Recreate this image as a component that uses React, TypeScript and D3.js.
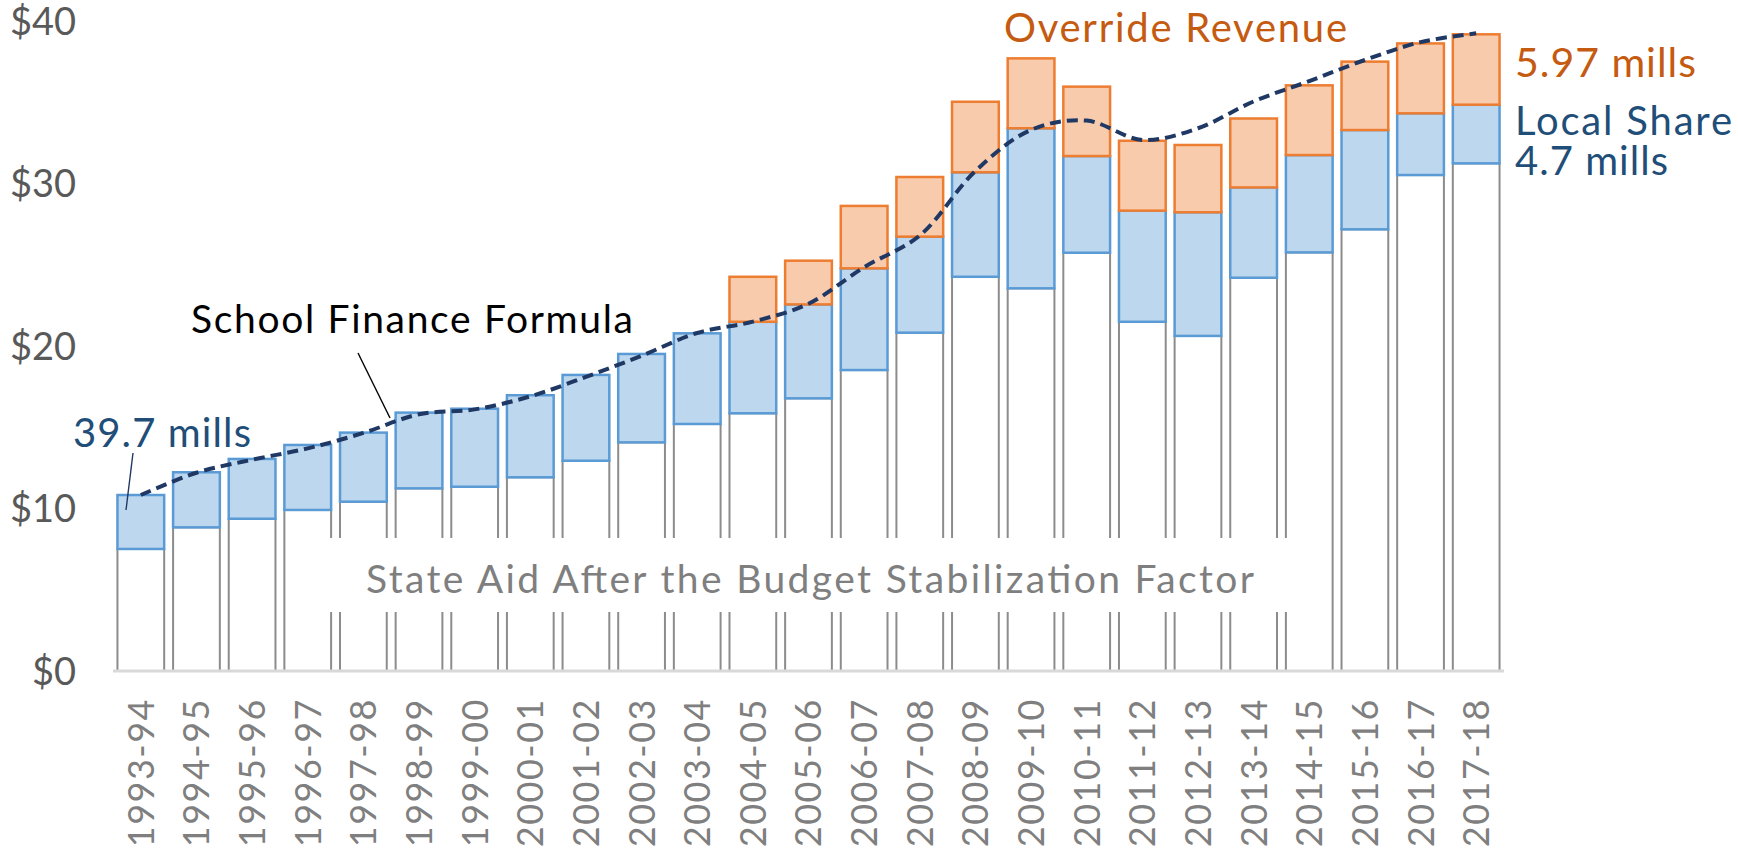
import React from "react";
import * as d3 from "d3";

const years = [
  "1993-94", "1994-95", "1995-96", "1996-97", "1997-98", "1998-99", "1999-00",
  "2000-01", "2001-02", "2002-03", "2003-04", "2004-05", "2005-06", "2006-07",
  "2007-08", "2008-09", "2009-10", "2010-11", "2011-12", "2012-13", "2013-14",
  "2014-15", "2015-16", "2016-17", "2017-18",
];
// State aid after the budget stabilization factor ($ billions)
const stateAid = [
  7.51, 8.84, 9.37, 9.91, 10.42, 11.24, 11.34, 11.92, 12.94, 14.07, 15.2, 15.86,
  16.78, 18.52, 20.82, 24.26, 23.55, 25.74, 21.49, 20.62, 24.2, 25.76, 27.18,
  30.52, 31.24,
];
// Local share
const localShare = [
  3.32, 3.39, 3.68, 4.0, 4.25, 4.66, 4.8, 5.05, 5.28, 5.44, 5.58, 5.63, 5.78,
  6.26, 5.91, 6.43, 9.85, 5.95, 6.84, 7.61, 5.56, 5.99, 6.11, 3.8, 3.61,
];
// Override revenue
const overrideRevenue = [
  0, 0, 0, 0, 0, 0, 0, 0, 0, 0, 0, 2.77, 2.69, 3.84, 3.67, 4.34, 4.3, 4.27,
  4.3, 4.14, 4.24, 4.29, 4.21, 4.3, 4.33,
];
// School finance formula total
const formula = [
  10.83, 12.2, 13.0, 13.7, 14.65, 15.8, 16.1, 16.9, 18.1, 19.4, 20.8, 21.5,
  22.6, 24.85, 26.8, 30.77, 33.3, 33.87, 32.68, 33.4, 35.05, 36.3, 37.6, 38.7,
  39.24,
];
const yTicks = [0, 10, 20, 30, 40];

const FONT = "Lato, 'Open Sans', sans-serif";

export default function App() {
  const x = d3
    .scaleBand<string>()
    .domain(years)
    .range([113, 1504])
    .paddingInner(0.16)
    .paddingOuter(0.08);
  const y = d3.scaleLinear().domain([0, 40]).range([671, 21]);
  const bw = x.bandwidth();
  const cx = (i: number) => (x(years[i]) as number) + bw / 2;

  const line = d3
    .line<number>()
    .x((_, i) => cx(i))
    .y((d) => y(d))
    .curve(d3.curveCatmullRom.alpha(0.5));

  return (
    <svg
      width={1738}
      height={852}
      style={{ position: "absolute", left: 0, top: 0, display: "block", background: "#fff" }}
      fontFamily={FONT}
    >
      {/* State aid bars */}
      {years.map((yr, i) => (
        <rect
          key={"s" + yr}
          x={x(yr)}
          y={y(stateAid[i])}
          width={bw}
          height={y(0) - y(stateAid[i])}
          fill="#ffffff"
          stroke="#8C8C8C"
          strokeWidth={2}
        />
      ))}
      {/* Local share */}
      {years.map((yr, i) => (
        <rect
          key={"l" + yr}
          x={x(yr)}
          y={y(stateAid[i] + localShare[i])}
          width={bw}
          height={y(stateAid[i]) - y(stateAid[i] + localShare[i])}
          fill="#BDD7EE"
          stroke="#5B9BD5"
          strokeWidth={2.5}
        />
      ))}
      {/* Override revenue */}
      {years.map((yr, i) =>
        overrideRevenue[i] > 0 ? (
          <rect
            key={"o" + yr}
            x={x(yr)}
            y={y(stateAid[i] + localShare[i] + overrideRevenue[i])}
            width={bw}
            height={
              y(stateAid[i] + localShare[i]) -
              y(stateAid[i] + localShare[i] + overrideRevenue[i])
            }
            fill="#F8CBAD"
            stroke="#ED7D31"
            strokeWidth={2.5}
          />
        ) : null
      )}
      {/* x axis line */}
      <line x1={113} x2={1504} y1={y(0)} y2={y(0)} stroke="#D9D9D9" strokeWidth={3} />

      {/* State aid label box */}
      <rect x={300} y={538} width={1020} height={74} fill="#ffffff" />
      <text
        x={366}
        y={593}
        fontSize={39}
        fill="#7F7F7F"
        textLength={888}
        lengthAdjust="spacing"
      >
        State Aid After the Budget Stabilization Factor
      </text>

      {/* formula line */}
      <path
        d={line(formula) || ""}
        fill="none"
        stroke="#1F3864"
        strokeWidth={4}
        strokeDasharray="11 6"
      />

      {/* y axis labels */}
      {yTicks.map((t) => (
        <text
          key={"yt" + t}
          x={76}
          y={y(t)}
          dy="0.36em"
          textAnchor="end"
          fontSize={38}
          fill="#595959"
        >
          {"$" + t}
        </text>
      ))}

      {/* x axis labels */}
      {years.map((yr, i) => (
        <text
          key={"xl" + yr}
          transform={`translate(${cx(i)},698) rotate(-90)`}
          textAnchor="end"
          dy="0.36em"
          fontSize={36}
          fill="#7F7F7F"
          letterSpacing={1.5}
        >
          {yr}
        </text>
      ))}

      {/* annotations */}
      <text x={191} y={333} fontSize={39} fill="#000000" textLength={442} lengthAdjust="spacing">
        School Finance Formula
      </text>
      <line x1={358} y1={353} x2={390} y2={418} stroke="#000000" strokeWidth={1.4} />

      <text x={73} y={447} fontSize={40} fill="#1F4E79" textLength={178} lengthAdjust="spacing">
        39.7 mills
      </text>
      <line x1={133} y1={453} x2={126} y2={510} stroke="#1F3864" strokeWidth={1.4} />

      <text x={1004} y={42} fontSize={40} fill="#C55A11" textLength={343} lengthAdjust="spacing">
        Override Revenue
      </text>
      <text x={1515} y={77} fontSize={41} fill="#C55A11" textLength={181} lengthAdjust="spacing">
        5.97 mills
      </text>
      <text x={1515} y={135} fontSize={40} fill="#1F4E79" textLength={217} lengthAdjust="spacing">
        Local Share
      </text>
      <text x={1515} y={175} fontSize={40} fill="#1F4E79" textLength={153} lengthAdjust="spacing">
        4.7 mills
      </text>
    </svg>
  );
}
